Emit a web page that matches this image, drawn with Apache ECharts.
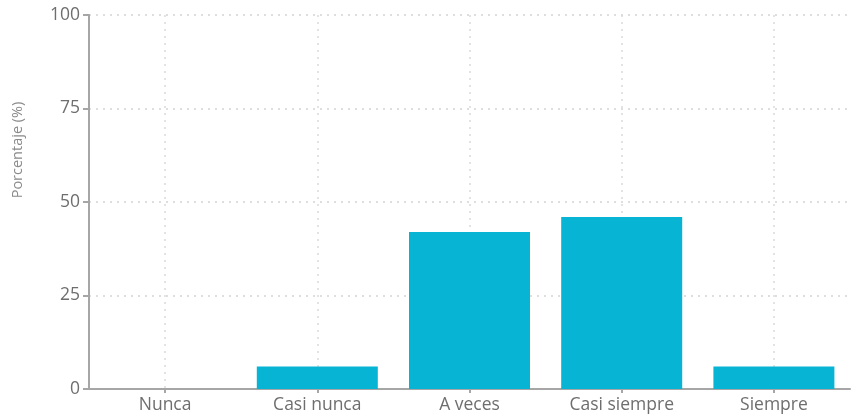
<!DOCTYPE html>
<html>
<head>
<meta charset="utf-8">
<script src="https://cdn.jsdelivr.net/npm/echarts@6/dist/echarts.min.js"></script>
<style>
  html, body { margin: 0; padding: 0; background: #ffffff; }
  #chart { width: 851px; height: 414px; }
</style>
</head>
<body>
<div id="chart"></div>
<script>
// Response frequency categories and share of respondents (%)
const categories = ['Nunca', 'Casi nunca', 'A veces', 'Casi siempre', 'Siempre'];
const percentages = [0, 6, 42, 46, 6];
const yTicks = [0, 25, 50, 75, 100];

const chart = echarts.init(document.getElementById('chart'));

const axisColor = '#a6a6a6';
const labelColor = '#6e6e6e';
const fontFamily = '"Open Sans", "Noto Sans", sans-serif';

chart.setOption({
  animation: false,
  grid: { left: 89, right: 1, top: 15, bottom: 24, containLabel: false },
  xAxis: {
    type: 'category',
    data: categories,
    boundaryGap: true,
    axisLine: { lineStyle: { color: axisColor, width: 2 } },
    axisTick: { show: true, alignWithLabel: true, length: 4, lineStyle: { color: axisColor, width: 2 } },
    axisLabel: { color: labelColor, fontSize: 17.5, fontFamily: fontFamily, margin: 7 },
    splitLine: {
      show: true,
      alignWithLabel: true,
      lineStyle: { color: '#dadada', type: [2, 5], width: 1.5 }
    }
  },
  yAxis: {
    type: 'value',
    min: yTicks[0],
    max: yTicks[yTicks.length - 1],
    interval: yTicks[1] - yTicks[0],
    name: 'Porcentaje (%)',
    nameLocation: 'middle',
    nameRotate: 90,
    nameGap: 64,
    nameTextStyle: { color: '#8a8a8a', fontSize: 14.5, fontFamily: fontFamily, padding: [0, 0, 0, 104] },
    axisLine: { show: true, lineStyle: { color: axisColor, width: 2 } },
    axisTick: { show: true, length: 6, lineStyle: { color: axisColor, width: 2 } },
    axisLabel: { color: labelColor, fontSize: 17.5, fontFamily: fontFamily, margin: 9 },
    splitLine: { show: true, lineStyle: { color: '#d4d4d4', type: [2, 5], width: 1.5 } }
  },
  series: [{
    type: 'bar',
    data: percentages,
    barWidth: 121,
    itemStyle: { color: '#07b4d4' }
  }]
});
</script>
</body>
</html>
